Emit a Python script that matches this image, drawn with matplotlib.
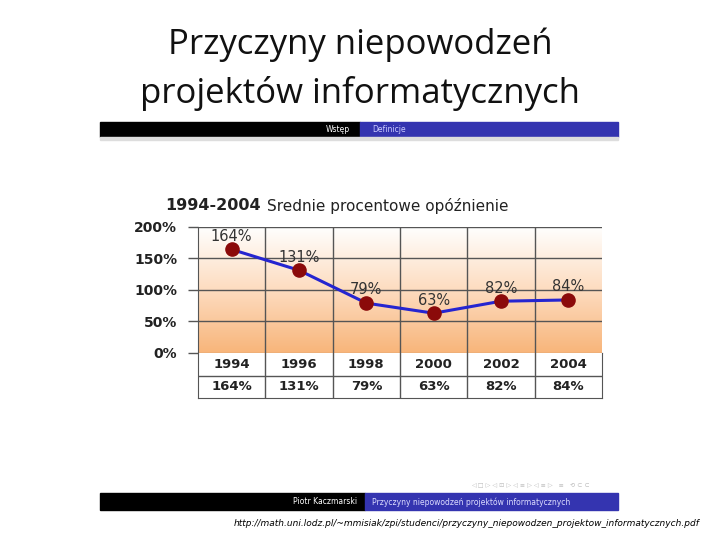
import numpy as np
import matplotlib.pyplot as plt
from matplotlib.colors import LinearSegmentedColormap
from matplotlib.patches import Rectangle

years = ['1994', '1996', '1998', '2000', '2002', '2004']
delay = [164, 131, 79, 63, 82, 84]
yticks = [0, 50, 100, 150, 200]

W, H = 720, 540
fig = plt.figure(figsize=(7.2, 5.4), dpi=100)
fig.patch.set_facecolor('white')


def fx(px):
    return px / W


def fy(py):
    return 1 - py / H


# slide title
fig.text(fx(360), fy(45), 'Przyczyny niepowodzeń', ha='center', va='center',
         fontsize=25, family='Open Sans', color='#111111')
fig.text(fx(360), fy(93), 'projektów informatycznych', ha='center', va='center',
         fontsize=25, family='Open Sans', color='#111111')

# beamer bars
blue = '#3434b0'
fig.patches.append(Rectangle((fx(100), fy(137)), fx(260), 15 / H, color='black',
                             transform=fig.transFigure))
fig.patches.append(Rectangle((fx(360), fy(137)), fx(258), 15 / H, color=blue,
                             transform=fig.transFigure))
fig.patches.append(Rectangle((fx(100), fy(140)), fx(518), 3 / H, color='#dddddd',
                             transform=fig.transFigure))
fig.text(fx(350), fy(129), 'Wstęp', ha='right', va='center', fontsize=5.5, color='white')
fig.text(fx(372), fy(129), 'Definicje', ha='left', va='center', fontsize=5.5, color='#ccccff')

fig.patches.append(Rectangle((fx(100), fy(510)), fx(265), 17 / H, color='black',
                             transform=fig.transFigure))
fig.patches.append(Rectangle((fx(365), fy(510)), fx(253), 17 / H, color=blue,
                             transform=fig.transFigure))
fig.text(fx(357), fy(502), 'Piotr Kaczmarski', ha='right', va='center', fontsize=5.5, color='white')
fig.text(fx(372), fy(502), 'Przyczyny niepowodzeń projektów informatycznych', ha='left',
         va='center', fontsize=5.5, color='#ddddff')
fig.text(fx(590), fy(485), '◁ □ ▷ ◁ ⊡ ▷ ◁ ≡ ▷ ◁ ≡ ▷   ≡   ⟲ ⊂ ⊂', ha='right', va='center',
         fontsize=4.5, color='#bbbbbb')

fig.text(fx(700), fy(524),
         'http://math.uni.lodz.pl/~mmisiak/zpi/studenci/przyczyny_niepowodzen_projektow_informatycznych.pdf',
         ha='right', va='center', fontsize=6.5, style='italic', color='black')

# chart heading
fig.text(fx(165), fy(206), '1994-2004', ha='left', va='center', fontsize=11.5,
         fontweight='bold', color='#222222')
fig.text(fx(267), fy(206), 'Srednie procentowe opóźnienie', ha='left', va='center',
         fontsize=11, color='#222222')

# line chart
ax = fig.add_axes([fx(198), fy(353), fx(404), (353 - 226.7) / H])
x = np.arange(len(years)) + 0.5
cmap = LinearSegmentedColormap.from_list('og', ['#f8b57a', '#fddcc0', '#ffffff'])
grad = np.linspace(0, 1, 256).reshape(-1, 1)
ax.imshow(grad, extent=(0, 6, 0, 200), origin='lower', cmap=cmap, aspect='auto', zorder=0)
ax.set_xlim(0, 6)
ax.set_ylim(0, 200)
for v in yticks[1:]:
    ax.axhline(v, color='#555555', lw=1, zorder=1)
for i in range(1, 6):
    ax.axvline(i, color='#555555', lw=1, zorder=1)
ax.plot(x, delay, color='#2525d0', lw=2.2, zorder=2)
ax.scatter(x, delay, s=90, color='#8b0a0a', zorder=3)
for xi, v in zip(x, delay):
    ax.text(xi, v + 9, f'{v}%', ha='center', va='bottom', fontsize=10.5, color='#333333')
ax.set_xticks([])
ax.set_yticks(yticks)
ax.set_yticklabels([f'{v}%' for v in yticks], fontsize=10, fontweight='bold', color='#222222')
ax.tick_params(axis='y', length=7, width=1, color='#555555', pad=8)
for s in ['top', 'right']:
    ax.spines[s].set_visible(False)
ax.spines['left'].set_color('#555555')
ax.spines['bottom'].set_color('#555555')

# data table
tab = fig.add_axes([fx(198), fy(398), fx(404), 45 / H])
tab.set_xlim(0, 6)
tab.set_ylim(0, 2)
tab.axhline(1, color='#555555', lw=1)
for i in range(1, 6):
    tab.axvline(i, color='#555555', lw=1)
for xi, yr, v in zip(x, years, delay):
    tab.text(xi, 1.5, yr, ha='center', va='center', fontsize=9.5, fontweight='bold', color='#222222')
    tab.text(xi, 0.5, f'{v}%', ha='center', va='center', fontsize=9.5, fontweight='bold', color='#222222')
tab.set_xticks([])
tab.set_yticks([])
for s in tab.spines.values():
    s.set_color('#555555')
tab.spines['top'].set_visible(False)

fig.savefig('out.png', dpi=100)
